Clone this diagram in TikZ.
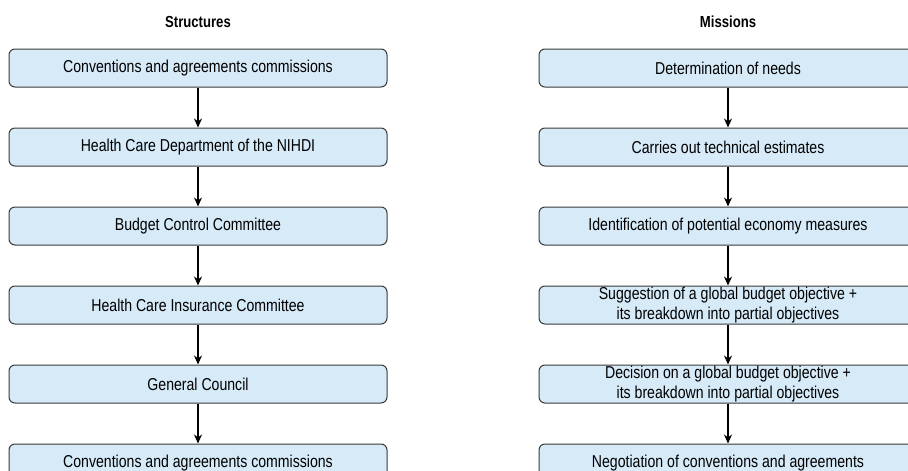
\documentclass[tikz,border=0pt]{standalone}
\usepackage{fontspec}
\setmainfont[FakeStretch=0.82]{Liberation Sans}
\usetikzlibrary{positioning, arrows.meta}
\definecolor{boxfill}{HTML}{D6EAF8}
\definecolor{boxline}{HTML}{3A3A3A}

\begin{document}
\begin{tikzpicture}[
    x=1pt, y=1pt,
    >={Stealth[length=9pt, width=8pt]},
    node distance=40pt,
    stage/.style={draw=boxline, fill=boxfill, rounded corners=6pt, line width=1pt,
                  minimum width=378pt, minimum height=38pt, inner xsep=2pt, inner ysep=0pt,
                  align=center, font=\fontsize{17.2}{19.5}\selectfont},
    heading/.style={font=\fontsize{16}{18}\selectfont\bfseries, inner sep=0pt},
    flow/.style={->, line width=1.5pt, color=black},
]

% page frame (the right column and bottom row run off the page)
\clip (0,0) rectangle (908,-471);
\useasboundingbox (0,0) rectangle (908,-471);

% Structures column
\node[stage] (s1) at (198,-68) {Conventions and agreements commissions};
\node[stage, below=of s1] (s2) {Health Care Department of the NIHDI};
\node[stage, below=of s2] (s3) {Budget Control Committee};
\node[stage, below=of s3] (s4) {Health Care Insurance Committee};
\node[stage, below=of s4] (s5) {General Council};
\node[stage, below=of s5] (s6) {Conventions and agreements commissions};

% Missions column
\node[stage, right=151pt of s1] (m1) {Determination of needs};
\node[stage, below=of m1] (m2) {Carries out technical estimates};
\node[stage, below=of m2] (m3) {Identification of potential economy measures};
\node[stage, below=of m3] (m4) {Suggestion of a global budget objective +\\its breakdown into partial objectives};
\node[stage, below=of m4] (m5) {Decision on a global budget objective +\\its breakdown into partial objectives};
\node[stage, below=of m5] (m6) {Negotiation of conventions and agreements};

% Column headings
\node[heading, above=21pt of s1] (hs) {Structures};
\node[heading, above=21pt of m1] (hm) {Missions};

% Arrows
\draw[flow] (s1) -- (s2);
\draw[flow] (s2) -- (s3);
\draw[flow] (s3) -- (s4);
\draw[flow] (s4) -- (s5);
\draw[flow] (s5) -- (s6);
\draw[flow] (m1) -- (m2);
\draw[flow] (m2) -- (m3);
\draw[flow] (m3) -- (m4);
\draw[flow] (m4) -- (m5);
\draw[flow] (m5) -- (m6);

\end{tikzpicture}
\end{document}
